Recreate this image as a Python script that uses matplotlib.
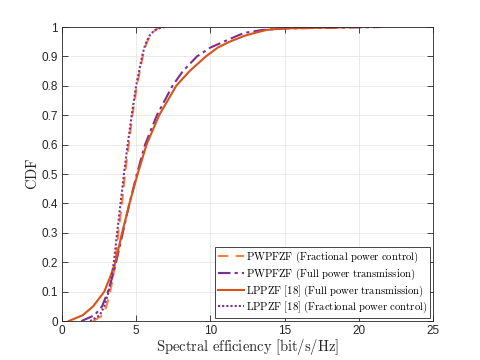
import matplotlib
matplotlib.use("Agg")
import matplotlib.pyplot as plt
import numpy as np

plt.rcParams['mathtext.fontset'] = 'cm'
plt.rcParams['font.family'] = ['Liberation Sans', 'DejaVu Sans']

cdf_levels = [0, 0.02, 0.05, 0.1, 0.15, 0.2, 0.3, 0.4, 0.5, 0.6, 0.7, 0.8,
              0.85, 0.9, 0.93, 0.95, 0.97, 0.98, 0.99, 0.995, 1.0]

pwpfzf_frac = [2.1, 2.75, 3.0, 3.25, 3.45, 3.6, 3.8, 4.05, 4.25, 4.5, 4.75, 5.05,
               5.25, 5.45, 5.6, 5.75, 5.95, 6.1, 6.3, 6.45, 6.6]
pwpfzf_full = [1.3, 2.2, 2.7, 3.1, 3.4, 3.65, 4.1, 4.55, 5.05, 5.6, 6.4, 7.45,
               8.15, 9.1, 10.0, 10.9, 11.8, 12.3, 13.5, 15.0, 21.5]
lppzf_full = [0.45, 1.4, 2.1, 2.85, 3.25, 3.6, 4.05, 4.55, 5.1, 5.7, 6.55, 7.7,
              8.6, 9.7, 10.5, 11.3, 12.3, 13.0, 13.8, 14.8, 20.1]
lppzf_frac = [1.9, 2.55, 2.85, 3.15, 3.35, 3.5, 3.72, 3.95, 4.18, 4.43, 4.7, 5.0,
              5.2, 5.4, 5.55, 5.7, 5.9, 6.05, 6.3, 6.5, 6.9]

labels = [r'$\mathrm{PWPFZF\ (Fractional\ power\ control)}$',
          r'$\mathrm{PWPFZF\ (Full\ power\ transmission)}$',
          r'$\mathrm{LPPZF\ [18]\ (Full\ power\ transmission)}$',
          r'$\mathrm{LPPZF\ [18]\ (Fractional\ power\ control)}$']

x_ticks = [0, 5, 10, 15, 20, 25]
y_ticks = [0, 0.1, 0.2, 0.3, 0.4, 0.5, 0.6, 0.7, 0.8, 0.9, 1]

fig = plt.figure(figsize=(4.8, 3.6), dpi=100)
ax = fig.add_axes([0.129, 0.108, 0.773, 0.817])

ax.plot(pwpfzf_frac, cdf_levels, color='#FF7F3F', linestyle=(0, (5, 3.5)), lw=1.5, label=labels[0])
ax.plot(pwpfzf_full, cdf_levels, color='#7E2F8E', linestyle=(0, (6, 2, 1.5, 2)), lw=1.5, label=labels[1])
ax.plot(lppzf_full, cdf_levels, color='#D95319', linestyle='-', lw=1.5, label=labels[2])
ax.plot(lppzf_frac, cdf_levels, color='#7E2F8E', linestyle=(0, (1, 1)), lw=1.5, label=labels[3])

ax.set_xlim(0, 25)
ax.set_ylim(0, 1)
ax.set_xticks(x_ticks)
ax.set_yticks(y_ticks)
ax.set_xticklabels([f'{t}' for t in x_ticks])
ax.set_yticklabels([f'{t:g}' for t in y_ticks])
ax.tick_params(direction='in', top=True, right=True, length=4, width=0.6,
               colors='#262626', labelsize=8.5, pad=3)
ax.grid(True, color='#E6E6E6', lw=0.6)
ax.set_axisbelow(True)
for s in ax.spines.values():
    s.set_linewidth(0.6)
    s.set_color('#262626')

ax.set_xlabel(r'$\mathrm{Spectral\ efficiency\ [bit/s/Hz]}$', fontsize=10.5, labelpad=0, color='#262626')
ax.set_ylabel(r'$\mathrm{CDF}$', fontsize=10.5, labelpad=1, color='#262626')

leg = ax.legend(loc='lower right', fontsize=7.7, fancybox=False, framealpha=1,
                edgecolor='#262626', borderpad=0.3, labelspacing=0.12,
                handlelength=2.4, handletextpad=0.2, borderaxespad=0.25)
leg.get_frame().set_linewidth(0.6)

fig.savefig('out.png', dpi=100)
